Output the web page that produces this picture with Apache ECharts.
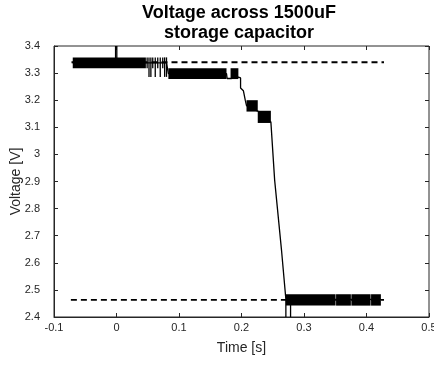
<!DOCTYPE html>
<html>
<head>
<meta charset="utf-8">
<script src="https://cdn.jsdelivr.net/npm/echarts@6/dist/echarts.min.js"></script>
<style>
  html, body { margin: 0; padding: 0; background: #fff; }
  #chart { width: 434px; height: 367px; }
</style>
</head>
<body>
<div id="chart"></div>
<script>
// 读图得到的数据
var xTicks = [-0.1, 0, 0.1, 0.2, 0.3, 0.4, 0.5];
var yTicks = [2.4, 2.5, 2.6, 2.7, 2.8, 2.9, 3, 3.1, 3.2, 3.3, 3.4];

// 主信号曲线 [t, V]
var trace = [
    [-0.07, 3.338], [0.08, 3.338], [0.083, 3.298], [0.176, 3.298],
    [0.177, 3.28], [0.183, 3.28], [0.195, 3.285], [0.1985, 3.282],
    [0.1985, 3.245], [0.203, 3.235], [0.206, 3.20], [0.208, 3.18],
    [0.226, 3.16], [0.247, 3.12], [0.253, 2.906], [0.264, 2.647],
    [0.271, 2.465], [0.423, 2.465]
];

// 噪声密集区 [t起, t止, V低, V高]
var bands = [
    [-0.07, 0.047, 3.318, 3.358],
    [0.083, 0.176, 3.278, 3.318],
    [0.1825, 0.195, 3.278, 3.318],
    [0.208, 0.226, 3.158, 3.200],
    [0.226, 0.247, 3.116, 3.161],
    [0.271, 0.3505, 2.442, 2.484],
    [0.3513, 0.375, 2.442, 2.484],
    [0.3758, 0.4065, 2.442, 2.484],
    [0.4073, 0.423, 2.442, 2.484]
];

// 单独的跳变竖线 [t, V低, V高]
var spikes = [
    [-0.0015, 3.34, 3.41], [0.0005, 3.34, 3.41],
    [0.049, 3.318, 3.358], [0.052, 3.286, 3.358], [0.055, 3.286, 3.358],
    [0.058, 3.318, 3.358], [0.062, 3.286, 3.358], [0.066, 3.318, 3.358],
    [0.070, 3.286, 3.358], [0.074, 3.318, 3.358], [0.077, 3.286, 3.358],
    [0.080, 3.286, 3.358],
    [0.271, 2.39, 2.465], [0.2785, 2.39, 2.465]
];

// 虚线参考电平
var upperRef = [[-0.072, 3.34], [0.428, 3.34]];
var lowerRef = [[-0.073, 2.463], [0.428, 2.463]];

var chart = echarts.init(document.getElementById('chart'));

var axisColor = '#262626';
var fontName = 'Liberation Sans';

function fmt(v) { return String(+v.toFixed(1)); }

function renderBand(params, api) {
    var p0 = api.coord([api.value(0), api.value(3)]);
    var p1 = api.coord([api.value(1), api.value(2)]);
    return {
        type: 'rect',
        shape: { x: p0[0], y: p0[1], width: Math.max(p1[0] - p0[0], 1), height: p1[1] - p0[1] },
        style: { fill: '#000' }
    };
}

function renderSpike(params, api) {
    var p0 = api.coord([api.value(0), api.value(1)]);
    var p1 = api.coord([api.value(0), api.value(2)]);
    return {
        type: 'line',
        shape: { x1: p0[0], y1: p0[1], x2: p1[0], y2: p1[1] },
        style: { stroke: '#000', lineWidth: 1.3 }
    };
}

// 上边、右边只画刻度（MATLAB 的 box on 效果）
var hiddenAxis = {
    axisLine: { show: false, onZero: false },
    axisTick: { show: true, inside: true, length: 4, lineStyle: { color: axisColor } },
    axisLabel: { show: false },
    splitLine: { show: false }
};

option = {
    animation: false,
    backgroundColor: '#fff',
    title: {
        text: 'Voltage across 1500uF\nstorage capacitor',
        left: 234,
        top: -2,
        textAlign: 'center',
        textStyle: { fontFamily: fontName, fontSize: 18, fontWeight: 'bold', color: '#000', lineHeight: 20 }
    },
    grid: {
        left: 54, right: 5, top: 46, bottom: 50,
        outerBoundsMode: 'none',
        show: true, borderColor: axisColor, borderWidth: 1, backgroundColor: '#fff'
    },
    xAxis: [
        {
            type: 'value', min: -0.1, max: 0.5, interval: 0.1,
            name: 'Time [s]', nameLocation: 'middle', nameGap: 24,
            nameTextStyle: { fontFamily: fontName, fontSize: 14, color: axisColor },
            axisLine: { show: true, onZero: false, lineStyle: { color: axisColor } },
            axisTick: { inside: true, length: 4, lineStyle: { color: axisColor } },
            axisLabel: { formatter: fmt, fontFamily: fontName, fontSize: 11, color: axisColor, margin: 5, showMaxLabel: true },
            splitLine: { show: false }
        },
        Object.assign({ type: 'value', position: 'top', min: -0.1, max: 0.5, interval: 0.1 }, hiddenAxis)
    ],
    yAxis: [
        {
            type: 'value', min: 2.4, max: 3.4, interval: 0.1,
            name: 'Voltage [V]', nameLocation: 'middle', nameGap: 31, nameMoveOverlap: false,
            nameTextStyle: { fontFamily: fontName, fontSize: 14, color: axisColor },
            axisLine: { show: true, onZero: false, lineStyle: { color: axisColor } },
            axisTick: { inside: true, length: 4, lineStyle: { color: axisColor } },
            axisLabel: { formatter: fmt, fontFamily: fontName, fontSize: 11, color: axisColor, margin: 14 },
            splitLine: { show: false }
        },
        Object.assign({ type: 'value', position: 'right', min: 2.4, max: 3.4, interval: 0.1 }, hiddenAxis)
    ],
    series: [
        {
            type: 'line', data: upperRef, showSymbol: false, silent: true,
            lineStyle: { color: '#000', width: 1.8, type: [6, 4] }
        },
        {
            type: 'line', data: lowerRef, showSymbol: false, silent: true,
            lineStyle: { color: '#000', width: 1.8, type: [6, 4] }
        },
        {
            type: 'custom', data: bands, renderItem: renderBand, clip: true, silent: true
        },
        {
            type: 'custom', data: spikes, renderItem: renderSpike, clip: true, silent: true
        },
        {
            type: 'line', data: trace, showSymbol: false, silent: true, clip: true,
            lineStyle: { color: '#000', width: 1.3 }
        }
    ]
};

chart.setOption(option);
</script>
</body>
</html>
